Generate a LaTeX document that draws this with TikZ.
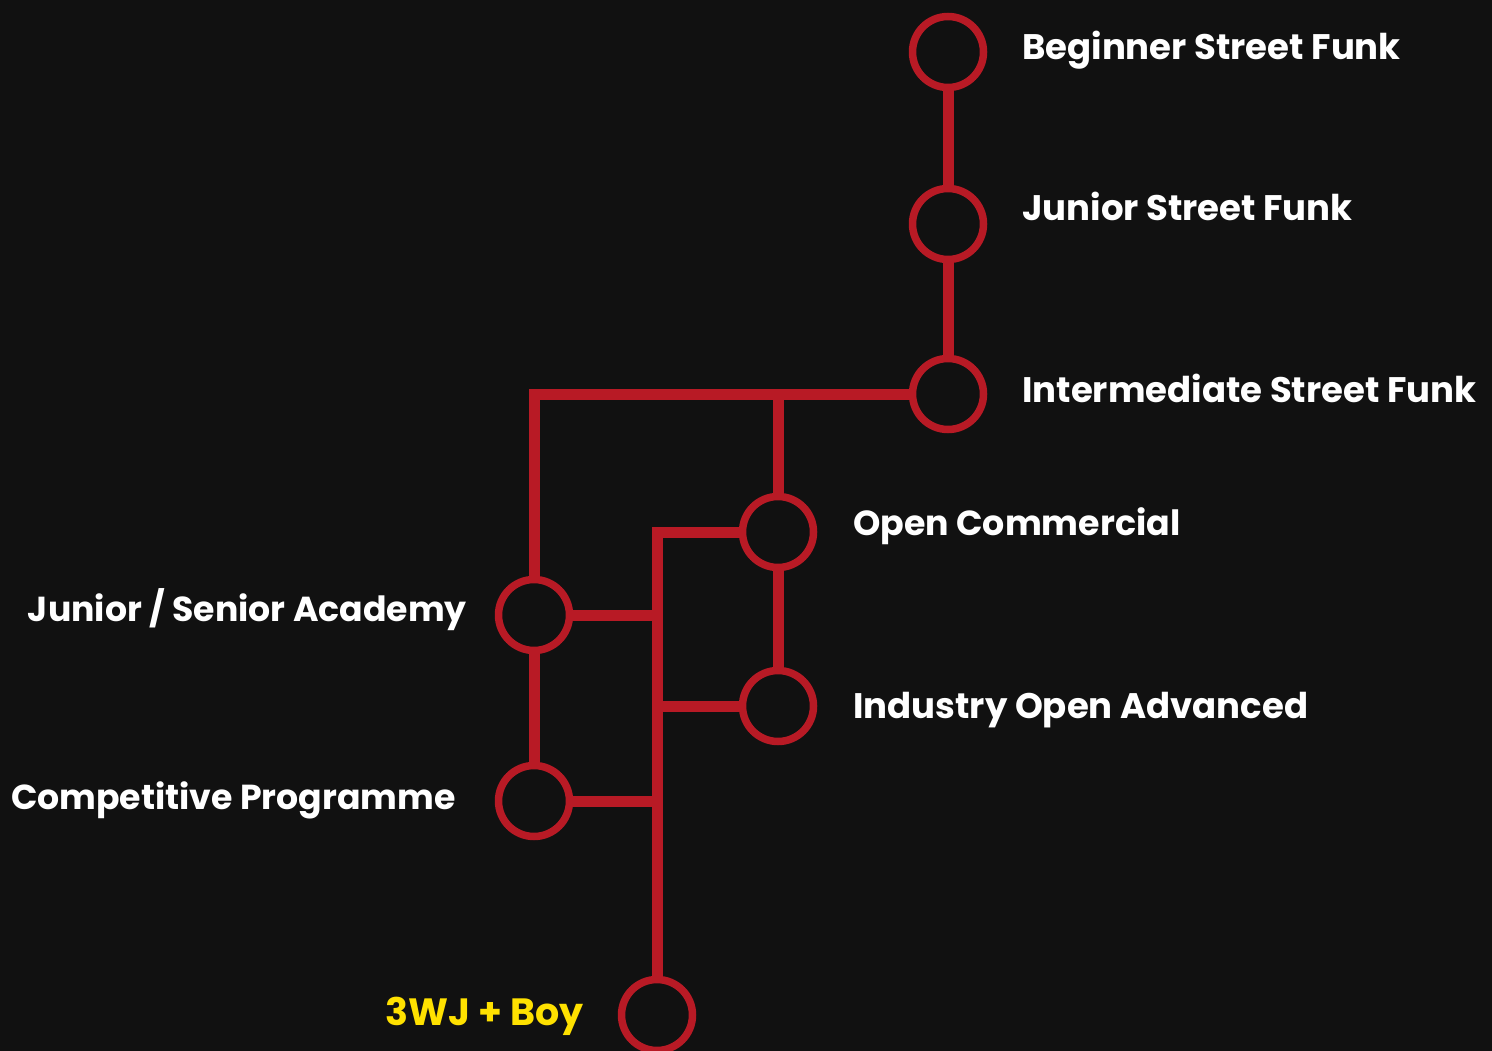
\documentclass[tikz,border=0pt]{standalone}
\usepackage{fontspec}
\setmainfont{Poppins}
\begin{document}
\begin{tikzpicture}[x=1pt,y=-1pt,
  station/.style={circle,draw=tred,line width=7.5pt,minimum size=71pt,inner sep=0pt,fill=bg},
  track/.style={draw=tred,line width=11pt},
  lbl/.style={anchor=base west,text=white,font=\fontsize{35.5}{40}\selectfont\bfseries,inner sep=0pt},
  lblr/.style={anchor=base east,text=white,font=\fontsize{34.7}{40}\selectfont\bfseries,inner sep=0pt}]
\definecolor{bg}{HTML}{111111}
\definecolor{tred}{HTML}{B81A25}
\definecolor{tyel}{HTML}{FFE100}
\fill[bg] (0,0) rectangle (1492,1051);
\useasboundingbox (0,0) rectangle (1492,1051);
% station coordinates
\coordinate (pb1) at (948,52);
\coordinate (pb2) at (948,224);
\coordinate (pb3) at (948,394);
\coordinate (poc) at (778,532);
\coordinate (pia) at (778,706);
\coordinate (pac) at (534,615);
\coordinate (pcp) at (534,801);
\coordinate (pwj) at (657,1015);
% tracks
\draw[track] (pb1) -- (pb2);
\draw[track] (pb2) -- (pb3);
\draw[track,line join=miter] (pb3) -| (pac);
\coordinate (j1) at (poc |- pb3);
\draw[track] (j1) -- (poc);
\draw[track] (pac) -- (pcp);
\draw[track] (poc) -- (pia);
\draw[track,line join=miter] (poc) -| (pwj);
\coordinate (jac) at (pwj |- pac);
\coordinate (jia) at (pwj |- pia);
\coordinate (jcp) at (pwj |- pcp);
\draw[track] (pac) -- (jac);
\draw[track] (pia) -- (jia);
\draw[track] (pcp) -- (jcp);
% stations
\node[station] (b1) at (pb1) {};
\node[station] (b2) at (pb2) {};
\node[station] (b3) at (pb3) {};
\node[station] (oc) at (poc) {};
\node[station] (ia) at (pia) {};
\node[station] (ac) at (pac) {};
\node[station] (cp) at (pcp) {};
\node[station] (wj) at (pwj) {};
% labels
\node[lbl] (t1) at (1022,60) {Beginner Street Funk};
\node[lbl] (t2) at (1022,221) {Junior Street Funk};
\node[lbl] (t3) at (1022,402) {Intermediate Street Funk};
\node[lbl,font=\fontsize{34.8}{40}\selectfont\bfseries] (t4) at (853,535) {Open Commercial};
\node[lbl] (t5) at (853,718) {Industry Open Advanced};
\node[lblr] (t6) at (467,621) {Junior / Senior Academy};
\node[lblr] (t7) at (456,809) {Competitive Programme};
\node[lblr,text=tyel,font=\fontsize{38}{42}\selectfont\bfseries] (t8) at (584,1025) {3WJ + Boy};
\end{tikzpicture}
\end{document}
